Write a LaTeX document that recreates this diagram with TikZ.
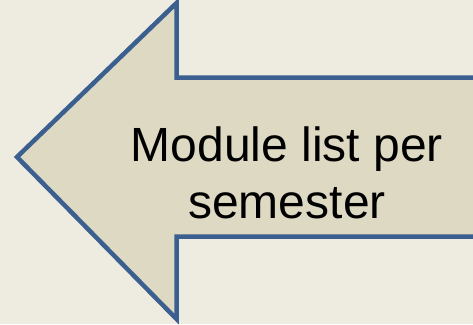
\documentclass[tikz,border=0pt]{standalone}
\usepackage{fontspec}
\setmainfont{Liberation Sans}
\usepackage{tikz}
\usetikzlibrary{positioning,calc}
\definecolor{bgbeige}{HTML}{EEECE1}
\definecolor{arrowfill}{HTML}{DDD9C3}
\definecolor{arrowline}{HTML}{3B5F8F}
\tikzset{
bigarrow/.style = {draw=arrowline, fill=arrowfill, line width=4.5pt, line join=miter},
txt/.style      = {align=center, font=\fontsize{48pt}{57pt}\selectfont, inner sep=0pt},
corner/.style   = {coordinate}
}

\begin{document}
\begin{tikzpicture}[x=1pt, y=-1pt]
  \fill [bgbeige] (0,0) rectangle (473,324);
  \useasboundingbox (0,0) rectangle (473,324);

  \node [corner]                (tip)       at (17,157)    {};
  \node [corner]                (headtop)   at (176.5,3)   {};
  \node [corner]                (headbot)   at (176.5,319) {};
  \node [corner]                (shafttop)  at (176.5,77.7) {};
  \node [corner]                (shaftbot)  at (176.5,236.7) {};
  \node [corner]                (endtop)    at (490,77.7)  {};
  \node [corner]                (endbot)    at (490,236.7) {};

  \draw [bigarrow] (tip) -- (headtop) -- (shafttop) -- (endtop)
                   -- (endbot) -- (shaftbot) -- (headbot) -- cycle;

  \node [txt, anchor=base]      (modlist)   at (287,218)   {Module list per\\semester};
\end{tikzpicture}
\end{document}
